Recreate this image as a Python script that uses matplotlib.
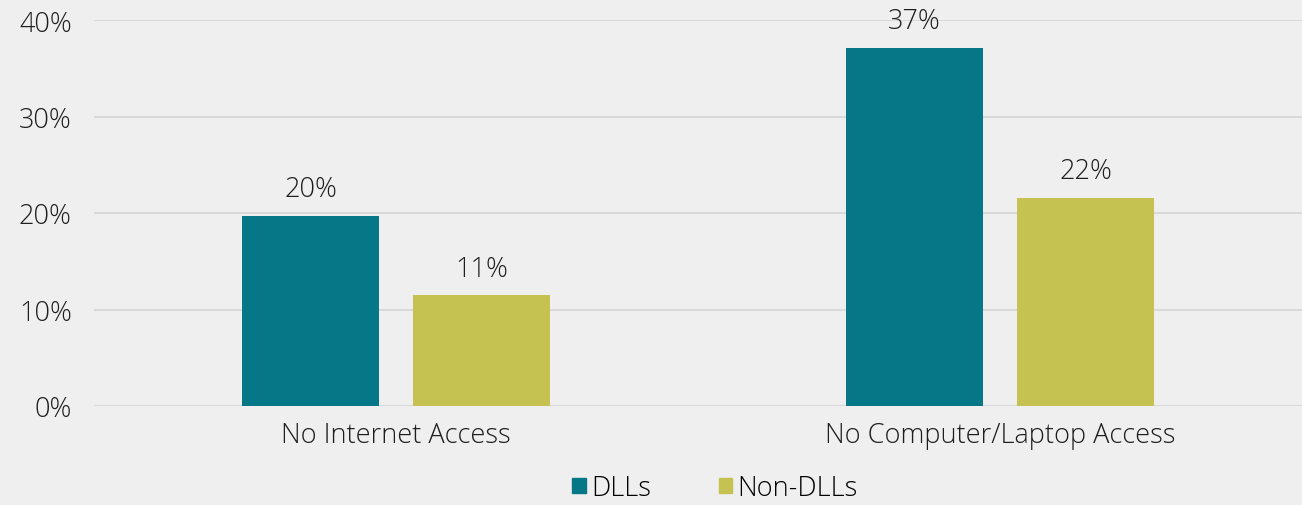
import numpy as np
import matplotlib.pyplot as plt
from matplotlib.patches import Patch

# data
categories = ["No Internet Access", "No Computer/Laptop Access"]
dll_values = [19.7, 37.1]
non_dll_values = [11.5, 21.6]
dll_labels = ["20%", "37%"]
non_dll_labels = ["11%", "22%"]
y_ticks = [0, 10, 20, 30, 40]

teal = "#067786"
olive = "#C5C251"
bg = "#EFEFEF"
txt = "#1E1E1E"
fs = 19.5

plt.rcParams["font.family"] = ["Open Sans", "DejaVu Sans"]

fig = plt.figure(figsize=(13.02, 5.06), dpi=100, facecolor=bg)
ax = fig.add_axes([94 / 1302, 1 - 407 / 506, 1 - 94 / 1302, (407 - 21) / 506])
ax.set_facecolor(bg)

x = np.arange(len(categories))
w = 0.227
off = 0.1416

b1 = ax.bar(x - off, dll_values, w, color=teal, zorder=3)
b2 = ax.bar(x + off, non_dll_values, w, color=olive, zorder=3)

for bars, labels in [(b1, dll_labels), (b2, non_dll_labels)]:
    for rect, lab in zip(bars, labels):
        ax.annotate(lab, (rect.get_x() + rect.get_width() / 2, rect.get_height()),
                    xytext=(0, 9), textcoords="offset points",
                    ha="center", va="bottom", fontsize=fs, color=txt,
                    fontweight="light")

ax.set_xlim(-0.5, 1.5)
ax.set_ylim(0, 40)
ax.set_yticks(y_ticks)
ax.set_yticklabels([f"{v}%" for v in y_ticks], fontsize=fs, color=txt, fontweight="light")
ax.set_xticks(x)
ax.set_xticklabels(categories, fontsize=fs, color=txt, fontweight="light")
ax.tick_params(axis="both", length=0)
ax.tick_params(axis="y", pad=16)
ax.tick_params(axis="x", pad=11)

ax.yaxis.grid(True, color="#D9D9D9", linewidth=1.5, zorder=0)
for s in ax.spines.values():
    s.set_visible(False)
ax.axhline(0, color="#D9D9D9", linewidth=1.5, zorder=2)

handles = [Patch(color=teal, label="DLLs"), Patch(color=olive, label="Non-DLLs")]
fig.legend(handles=handles, loc="center", bbox_to_anchor=(715 / 1302, 1 - 489 / 506),
           ncol=2, frameon=False, handlelength=0.5, handleheight=0.5,
           handletextpad=0.2, columnspacing=2.5, prop={"weight": "light", "size": fs})

fig.savefig("out.png", dpi=100, facecolor=bg)
